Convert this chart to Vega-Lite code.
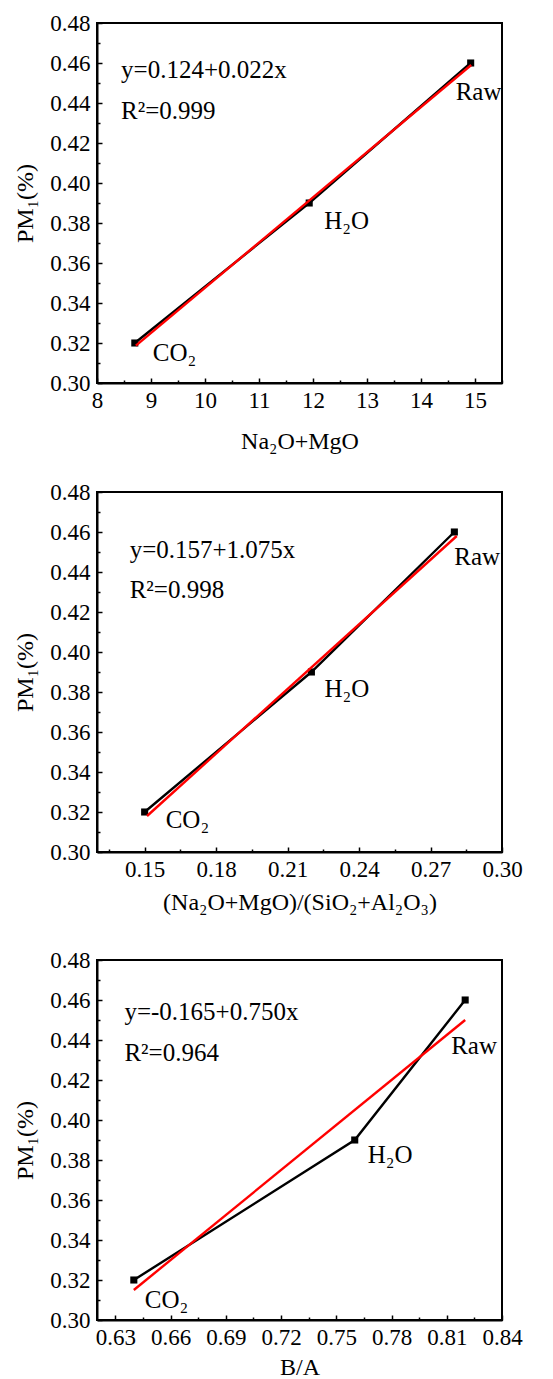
{
  "$schema": "https://vega.github.io/schema/vega-lite/v6.json",
  "padding": {"left": 12, "top": 11, "right": 5, "bottom": 0},
  "config": {
    "font": "Liberation Serif",
    "view": {"stroke": "black", "strokeWidth": 2},
    "axis": {
      "labelFont": "Liberation Serif", "labelFontSize": 23, "labelColor": "black",
      "titleFont": "Liberation Serif", "titleFontSize": 24, "titleFontWeight": "normal", "titleColor": "black",
      "domainColor": "black", "domainWidth": 2, "tickColor": "black", "tickWidth": 1.5,
      "grid": false, "labelOverlap": false, "labelFlush": false
    },
    "text": {"font": "Liberation Serif", "fontSize": 25, "color": "black"}
  },
  "datasets": {
    "pts": [
      {"panel": 1, "s": "CO2", "lab": "CO₂", "x": 8.7, "y": 0.32},
      {"panel": 1, "s": "H2O", "lab": "H₂O", "x": 11.93, "y": 0.39},
      {"panel": 1, "s": "Raw", "lab": "Raw", "x": 14.92, "y": 0.46},
      {"panel": 2, "s": "CO2", "lab": "CO₂", "x": 0.15, "y": 0.32},
      {"panel": 2, "s": "H2O", "lab": "H₂O", "x": 0.22, "y": 0.39},
      {"panel": 2, "s": "Raw", "lab": "Raw", "x": 0.28, "y": 0.46},
      {"panel": 3, "s": "CO2", "lab": "CO₂", "x": 0.64, "y": 0.32},
      {"panel": 3, "s": "H2O", "lab": "H₂O", "x": 0.76, "y": 0.39},
      {"panel": 3, "s": "Raw", "lab": "Raw", "x": 0.82, "y": 0.46}
    ],
    "fit": [
      {"panel": 1, "x": 8.72, "y": 0.3187},
      {"panel": 1, "x": 14.93, "y": 0.459},
      {"panel": 2, "x": 0.151, "y": 0.318},
      {"panel": 2, "x": 0.281, "y": 0.458},
      {"panel": 3, "x": 0.64, "y": 0.315},
      {"panel": 3, "x": 0.82, "y": 0.45}
    ],
    "ann": [
      {"panel": 1, "eq": "y=0.124+0.022x", "r2": "R²=0.999", "x": 8.445, "y": 0.4565, "y2": 0.436},
      {"panel": 2, "eq": "y=0.157+1.075x", "r2": "R²=0.998", "x": 0.1437, "y": 0.4512, "y2": 0.4312},
      {"panel": 3, "eq": "y=-0.165+0.750x", "r2": "R²=0.964", "x": 0.6349, "y": 0.4542, "y2": 0.4333}
    ]
  },
  "vconcat": [
    {
      "spacing": 26,
      "vconcat": [
        {
          "width": 405, "height": 360,
          "resolve": {"axis": {"x": "independent", "y": "independent"}},
          "layer": [
            {
              "data": {"name": "pts"}, "transform": [{"filter": "datum.panel == 1"}],
              "mark": {"type": "line", "color": "black", "strokeWidth": 2.4},
              "encoding": {
                "x": {"field": "x", "type": "quantitative", "title": "Na₂O+MgO",
                  "scale": {"domain": [8, 15.5], "nice": false, "zero": false},
                  "axis": {"orient": "bottom", "values": [8, 9, 10, 11, 12, 13, 14, 15], "format": "d",
                    "labelFont": "Liberation Serif", "tickSize": -5, "labelPadding": 11, "titlePadding": 17}},
                "y": {"field": "y", "type": "quantitative", "title": "PM₁(%)",
                  "scale": {"domain": [0.3, 0.48], "nice": false, "zero": false},
                  "axis": {"orient": "left", "values": [0.30, 0.32, 0.34, 0.36, 0.38, 0.40, 0.42, 0.44, 0.46, 0.48], "format": ".2f",
                    "labelFont": "Liberation Serif", "tickSize": -5, "labelPadding": 12, "titlePadding": 12}}
              }
            },
            {
              "data": {"name": "pts"}, "transform": [{"filter": "datum.panel == 1"}],
              "mark": {"type": "point", "shape": "square", "filled": true, "color": "black", "size": 50, "opacity": 1},
              "encoding": {
                "x": {"field": "x", "type": "quantitative",
                  "axis": {"orient": "bottom", "values": [8.5, 9.5, 10.5, 11.5, 12.5, 13.5, 14.5, 15.5], "labels": false, "domain": false, "title": null, "tickSize": -3}},
                "y": {"field": "y", "type": "quantitative",
                  "axis": {"orient": "left", "values": [0.31, 0.33, 0.35, 0.37, 0.39, 0.41, 0.43, 0.45, 0.47], "labels": false, "domain": false, "title": null, "tickSize": -3}}
              }
            },
            {
              "data": {"name": "fit"}, "transform": [{"filter": "datum.panel == 1"}],
              "mark": {"type": "line", "color": "#ff0000", "strokeWidth": 2.4},
              "encoding": {"x": {"field": "x", "type": "quantitative", "axis": null}, "y": {"field": "y", "type": "quantitative", "axis": null}}
            },
            {
              "data": {"name": "pts"}, "transform": [{"filter": "datum.panel == 1 && datum.s == 'Raw'"}],
              "mark": {"type": "text", "align": "left", "baseline": "middle", "dx": -15, "dy": 29},
              "encoding": {"x": {"field": "x", "type": "quantitative", "axis": null}, "y": {"field": "y", "type": "quantitative", "axis": null}, "text": {"field": "lab"}}
            },
            {
              "data": {"name": "pts"}, "transform": [{"filter": "datum.panel == 1 && datum.s == 'H2O'"}],
              "mark": {"type": "text", "align": "left", "baseline": "middle", "dx": 15, "dy": 18},
              "encoding": {"x": {"field": "x", "type": "quantitative", "axis": null}, "y": {"field": "y", "type": "quantitative", "axis": null}, "text": {"field": "lab"}}
            },
            {
              "data": {"name": "pts"}, "transform": [{"filter": "datum.panel == 1 && datum.s == 'CO2'"}],
              "mark": {"type": "text", "align": "left", "baseline": "middle", "dx": 18, "dy": 10},
              "encoding": {"x": {"field": "x", "type": "quantitative", "axis": null}, "y": {"field": "y", "type": "quantitative", "axis": null}, "text": {"field": "lab"}}
            },
            {
              "data": {"name": "ann"}, "transform": [{"filter": "datum.panel == 1"}],
              "mark": {"type": "text", "align": "left", "baseline": "middle"},
              "encoding": {"x": {"field": "x", "type": "quantitative", "axis": null}, "y": {"field": "y", "type": "quantitative", "axis": null}, "text": {"field": "eq"}}
            },
            {
              "data": {"name": "ann"}, "transform": [{"filter": "datum.panel == 1"}],
              "mark": {"type": "text", "align": "left", "baseline": "middle"},
              "encoding": {"x": {"field": "x", "type": "quantitative", "axis": null}, "y": {"field": "y2", "type": "quantitative", "axis": null}, "text": {"field": "r2"}}
            }
          ]
        },
        {
          "width": 405, "height": 360,
          "resolve": {"axis": {"x": "independent", "y": "independent"}},
          "layer": [
            {
              "data": {"name": "pts"}, "transform": [{"filter": "datum.panel == 2"}],
              "mark": {"type": "line", "color": "black", "strokeWidth": 2.4},
              "encoding": {
                "x": {"field": "x", "type": "quantitative", "title": "(Na₂O+MgO)/(SiO₂+Al₂O₃)",
                  "scale": {"domain": [0.13, 0.30], "nice": false, "zero": false},
                  "axis": {"orient": "bottom", "values": [0.15, 0.18, 0.21, 0.24, 0.27, 0.30], "format": ".2f",
                    "labelFont": "Liberation Serif", "tickSize": -5, "labelPadding": 11, "titlePadding": 9}},
                "y": {"field": "y", "type": "quantitative", "title": "PM₁(%)",
                  "scale": {"domain": [0.3, 0.48], "nice": false, "zero": false},
                  "axis": {"orient": "left", "values": [0.30, 0.32, 0.34, 0.36, 0.38, 0.40, 0.42, 0.44, 0.46, 0.48], "format": ".2f",
                    "labelFont": "Liberation Serif", "tickSize": -5, "labelPadding": 12, "titlePadding": 12}}
              }
            },
            {
              "data": {"name": "pts"}, "transform": [{"filter": "datum.panel == 2"}],
              "mark": {"type": "point", "shape": "square", "filled": true, "color": "black", "size": 50, "opacity": 1},
              "encoding": {
                "x": {"field": "x", "type": "quantitative",
                  "axis": {"orient": "bottom", "values": [0.135, 0.165, 0.195, 0.225, 0.255, 0.285], "labels": false, "domain": false, "title": null, "tickSize": -3}},
                "y": {"field": "y", "type": "quantitative",
                  "axis": {"orient": "left", "values": [0.31, 0.33, 0.35, 0.37, 0.39, 0.41, 0.43, 0.45, 0.47], "labels": false, "domain": false, "title": null, "tickSize": -3}}
              }
            },
            {
              "data": {"name": "fit"}, "transform": [{"filter": "datum.panel == 2"}],
              "mark": {"type": "line", "color": "#ff0000", "strokeWidth": 2.4},
              "encoding": {"x": {"field": "x", "type": "quantitative", "axis": null}, "y": {"field": "y", "type": "quantitative", "axis": null}}
            },
            {
              "data": {"name": "pts"}, "transform": [{"filter": "datum.panel == 2 && datum.s == 'Raw'"}],
              "mark": {"type": "text", "align": "left", "baseline": "middle", "dx": 0, "dy": 25},
              "encoding": {"x": {"field": "x", "type": "quantitative", "axis": null}, "y": {"field": "y", "type": "quantitative", "axis": null}, "text": {"field": "lab"}}
            },
            {
              "data": {"name": "pts"}, "transform": [{"filter": "datum.panel == 2 && datum.s == 'H2O'"}],
              "mark": {"type": "text", "align": "left", "baseline": "middle", "dx": 13, "dy": 17},
              "encoding": {"x": {"field": "x", "type": "quantitative", "axis": null}, "y": {"field": "y", "type": "quantitative", "axis": null}, "text": {"field": "lab"}}
            },
            {
              "data": {"name": "pts"}, "transform": [{"filter": "datum.panel == 2 && datum.s == 'CO2'"}],
              "mark": {"type": "text", "align": "left", "baseline": "middle", "dx": 21, "dy": 8},
              "encoding": {"x": {"field": "x", "type": "quantitative", "axis": null}, "y": {"field": "y", "type": "quantitative", "axis": null}, "text": {"field": "lab"}}
            },
            {
              "data": {"name": "ann"}, "transform": [{"filter": "datum.panel == 2"}],
              "mark": {"type": "text", "align": "left", "baseline": "middle"},
              "encoding": {"x": {"field": "x", "type": "quantitative", "axis": null}, "y": {"field": "y", "type": "quantitative", "axis": null}, "text": {"field": "eq"}}
            },
            {
              "data": {"name": "ann"}, "transform": [{"filter": "datum.panel == 2"}],
              "mark": {"type": "text", "align": "left", "baseline": "middle"},
              "encoding": {"x": {"field": "x", "type": "quantitative", "axis": null}, "y": {"field": "y2", "type": "quantitative", "axis": null}, "text": {"field": "r2"}}
            }
          ]
        }
      ]
    },
    {
      "width": 405, "height": 360,
      "resolve": {"axis": {"x": "independent", "y": "independent"}},
      "layer": [
        {
          "data": {"name": "pts"}, "transform": [{"filter": "datum.panel == 3"}],
          "mark": {"type": "line", "color": "black", "strokeWidth": 2.4},
          "encoding": {
            "x": {"field": "x", "type": "quantitative", "title": "B/A",
              "scale": {"domain": [0.62, 0.84], "nice": false, "zero": false},
              "axis": {"orient": "bottom", "values": [0.63, 0.66, 0.69, 0.72, 0.75, 0.78, 0.81, 0.84], "format": ".2f",
                "labelFont": "Liberation Serif", "tickSize": -5, "labelPadding": 11, "titlePadding": 6}},
            "y": {"field": "y", "type": "quantitative", "title": "PM₁(%)",
              "scale": {"domain": [0.3, 0.48], "nice": false, "zero": false},
              "axis": {"orient": "left", "values": [0.30, 0.32, 0.34, 0.36, 0.38, 0.40, 0.42, 0.44, 0.46, 0.48], "format": ".2f",
                "labelFont": "Liberation Serif", "tickSize": -5, "labelPadding": 12, "titlePadding": 12}}
          }
        },
        {
          "data": {"name": "pts"}, "transform": [{"filter": "datum.panel == 3"}],
          "mark": {"type": "point", "shape": "square", "filled": true, "color": "black", "size": 50, "opacity": 1},
          "encoding": {
            "x": {"field": "x", "type": "quantitative",
              "axis": {"orient": "bottom", "values": [0.645, 0.675, 0.705, 0.735, 0.765, 0.795, 0.825], "labels": false, "domain": false, "title": null, "tickSize": -3}},
            "y": {"field": "y", "type": "quantitative",
              "axis": {"orient": "left", "values": [0.31, 0.33, 0.35, 0.37, 0.39, 0.41, 0.43, 0.45, 0.47], "labels": false, "domain": false, "title": null, "tickSize": -3}}
          }
        },
        {
          "data": {"name": "fit"}, "transform": [{"filter": "datum.panel == 3"}],
          "mark": {"type": "line", "color": "#ff0000", "strokeWidth": 2.4},
          "encoding": {"x": {"field": "x", "type": "quantitative", "axis": null}, "y": {"field": "y", "type": "quantitative", "axis": null}}
        },
        {
          "data": {"name": "pts"}, "transform": [{"filter": "datum.panel == 3 && datum.s == 'Raw'"}],
          "mark": {"type": "text", "align": "left", "baseline": "middle", "dx": -14, "dy": 46},
          "encoding": {"x": {"field": "x", "type": "quantitative", "axis": null}, "y": {"field": "y", "type": "quantitative", "axis": null}, "text": {"field": "lab"}}
        },
        {
          "data": {"name": "pts"}, "transform": [{"filter": "datum.panel == 3 && datum.s == 'H2O'"}],
          "mark": {"type": "text", "align": "left", "baseline": "middle", "dx": 13, "dy": 15},
          "encoding": {"x": {"field": "x", "type": "quantitative", "axis": null}, "y": {"field": "y", "type": "quantitative", "axis": null}, "text": {"field": "lab"}}
        },
        {
          "data": {"name": "pts"}, "transform": [{"filter": "datum.panel == 3 && datum.s == 'CO2'"}],
          "mark": {"type": "text", "align": "left", "baseline": "middle", "dx": 11, "dy": 20},
          "encoding": {"x": {"field": "x", "type": "quantitative", "axis": null}, "y": {"field": "y", "type": "quantitative", "axis": null}, "text": {"field": "lab"}}
        },
        {
          "data": {"name": "ann"}, "transform": [{"filter": "datum.panel == 3"}],
          "mark": {"type": "text", "align": "left", "baseline": "middle"},
          "encoding": {"x": {"field": "x", "type": "quantitative", "axis": null}, "y": {"field": "y", "type": "quantitative", "axis": null}, "text": {"field": "eq"}}
        },
        {
          "data": {"name": "ann"}, "transform": [{"filter": "datum.panel == 3"}],
          "mark": {"type": "text", "align": "left", "baseline": "middle"},
          "encoding": {"x": {"field": "x", "type": "quantitative", "axis": null}, "y": {"field": "y2", "type": "quantitative", "axis": null}, "text": {"field": "r2"}}
        }
      ]
    }
  ],
  "spacing": 33
}
